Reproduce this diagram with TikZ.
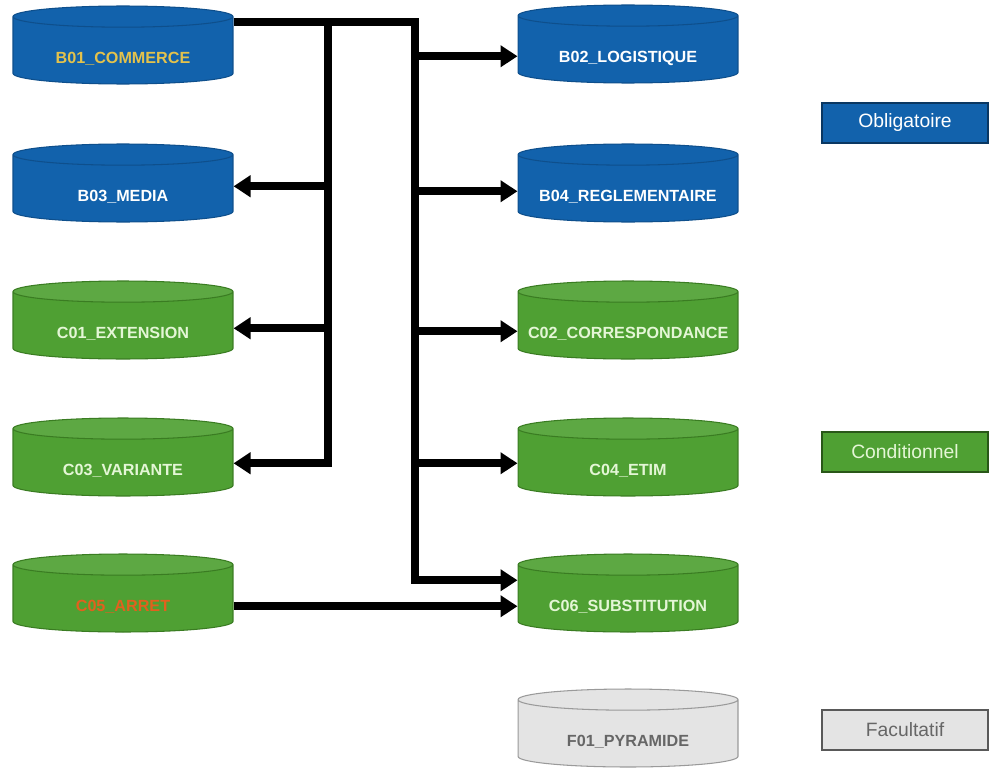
\documentclass[tikz,border=0pt]{standalone}
\usepackage{fontspec}
\setsansfont{Liberation Sans}
\usepackage{tikz}
\usetikzlibrary{arrows.meta,positioning,calc,shapes.geometric}
\definecolor{oblBlue}{HTML}{1262AC}
\definecolor{oblEdge}{HTML}{0E4F8C}
\definecolor{condGreen}{HTML}{4FA033}
\definecolor{condEdge}{HTML}{3A7C22}
\definecolor{condText}{HTML}{E4F6D6}
\definecolor{facGray}{HTML}{E4E4E4}
\definecolor{facEdge}{HTML}{9A9A9A}
\definecolor{comYellow}{HTML}{E3C24C}
\definecolor{arrOrange}{HTML}{E2601E}

\begin{document}
\begin{tikzpicture}[x=0.02cm,y=-0.02cm]
\tikzset{base/.style={cylinder,shape border rotate=90,aspect=0.1,
minimum width=4.4cm,minimum height=1.56cm,cylinder uses custom fill,
text width=4cm,align=center,anchor=shape center,
text height=0.46cm,text depth=0pt,line width=0.6pt,
font=\sffamily\bfseries\fontsize{9.2}{10}\selectfont}}
\tikzset{oblig/.style={base,draw=oblEdge,cylinder body fill=oblBlue,
cylinder end fill=oblBlue,text=white}}
\tikzset{cond/.style={base,draw=condEdge,cylinder body fill=condGreen,
cylinder end fill=condGreen!92!white,text=condText}}
\tikzset{facul/.style={base,draw=facEdge,cylinder body fill=facGray,
cylinder end fill=facGray,text=black!60}}
\tikzset{legend/.style={rectangle,draw,line width=0.8pt,minimum width=3.32cm,
minimum height=0.8cm,font=\sffamily\fontsize{11}{12}\selectfont}}
\tikzset{link/.style={line width=0.16cm,
-{Triangle[length=0.34cm,width=0.42cm]}}}
\useasboundingbox (0,0) rectangle (996,767);

\node[oblig,text=comYellow] (B01) at (123,45) {B01\_COMMERCE};
\node[oblig] (B03) at (123,183) {B03\_MEDIA};
\node[cond] (C01) at (123,320) {C01\_EXTENSION};
\node[cond] (C03) at (123,457) {C03\_VARIANTE};
\node[cond,text=arrOrange] (C05) at (123,593) {C05\_ARRET};
\node[oblig] (B02) at (628,44) {B02\_LOGISTIQUE};
\node[oblig] (B04) at (628,183) {B04\_REGLEMENTAIRE};
\node[cond] (C02) at (628,320) {C02\_CORRESPONDANCE};
\node[cond] (C04) at (628,457) {C04\_ETIM};
\node[cond] (C06) at (628,593) {C06\_SUBSTITUTION};
\node[facul] (F01) at (628,728) {F01\_PYRAMIDE};

\node[legend,fill=oblBlue,draw=oblEdge!70!black,text=white] (legOb) at (905,123) {Obligatoire};
\node[legend,fill=condGreen,draw=condEdge!70!black,text=condText] (legCo) at (905,452) {Conditionnel};
\node[legend,fill=facGray,draw=black!65,text=black!60] (legFa) at (905,730) {Facultatif};

\coordinate (jL) at (328,22);
\coordinate (jR) at (415,22);
\path ($(C06.west)+(0,-20)$) coordinate (C06-up);
\draw[link] (B01.east |- jR) -- (jR) |- (C06-up);
\foreach \n/\d in {B02/5,B04/1,C02/4,C04/-1} {
\path ($(\n.west)+(0,\d)$) coordinate (\n-in);
\draw[link] (jR |- \n-in) -- (\n-in);
}
\foreach \n/\d in {B03/-4,C01/1} {
\path ($(\n.east)+(0,\d)$) coordinate (\n-in);
\draw[link] (jL |- \n-in) -- (\n-in);
}
\path ($(C03.east)+(0,-1)$) coordinate (C03-in);
\draw[link] (jL) |- (C03-in);
\draw[link] ($(C05.east)+(0,6)$) -- ($(C06.west)+(0,6)$);
\end{tikzpicture}
\end{document}
